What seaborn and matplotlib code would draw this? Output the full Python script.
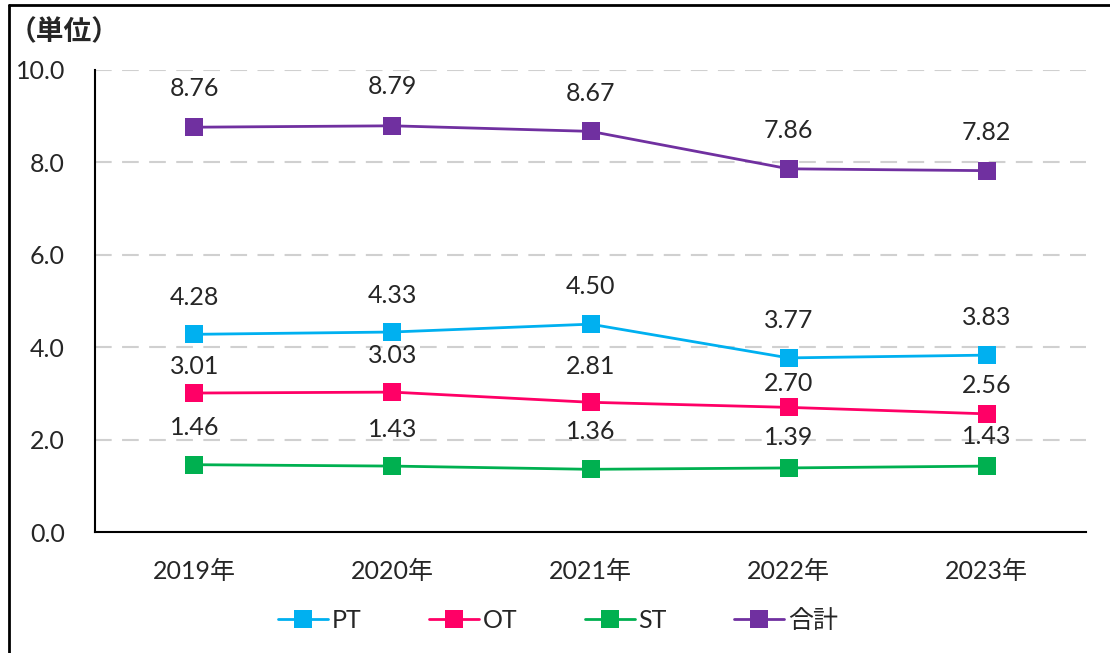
import pandas as pd
import matplotlib.pyplot as plt
import seaborn as sns
from matplotlib.lines import Line2D

years = ['2019年', '2020年', '2021年', '2022年', '2023年']
pt = [4.28, 4.33, 4.50, 3.77, 3.83]
ot = [3.01, 3.03, 2.81, 2.70, 2.56]
st = [1.46, 1.43, 1.36, 1.39, 1.43]
total = [8.76, 8.79, 8.67, 7.86, 7.82]
series = ['PT', 'OT', 'ST', '合計']
colors = ['#00B0F0', '#FF0066', '#00B050', '#7030A0']

# vertical gap (px) between each data label and its marker, as placed in the original
label_gap = [37, 37, 38, 37, 38,
             27, 37, 36, 24, 28,
             37, 37, 38, 30, 30,
             39, 39, 38, 38, 38]

df = pd.DataFrame({'year': years * 4,
                   'x': list(range(5)) * 4,
                   'value': pt + ot + st + total,
                   'series': [s for s in series for _ in years]})
df['gap'] = label_gap

sns.set_style('white')
plt.rcParams['font.family'] = ['Lato', 'Noto Sans CJK JP', 'DejaVu Sans']

fig = plt.figure(figsize=(11.1, 6.53), dpi=100)
ax = fig.add_axes([0.086, 0.185, 0.892, 0.708])

sns.lineplot(data=df, x='x', y='value', hue='series', hue_order=series,
             palette=colors, marker='s', markersize=13, markeredgewidth=0,
             linewidth=2, ax=ax)

# data labels
for _, r in df.iterrows():
    ax.annotate(f"{r['value']:.2f}", (r['x'], r['value']), xytext=(0, r['gap'] * 0.72),
                textcoords='offset points', ha='center', va='center', fontsize=18)

ax.set_xlim(-0.5, 4.5)
ax.set_ylim(0, 10)
ax.set_yticks([0, 2, 4, 6, 8, 10])
ax.set_yticklabels([f'{v:.1f}' for v in [0, 2, 4, 6, 8, 10]], fontsize=18)
ax.set_xticks(range(5))
ax.set_xticklabels(years, fontsize=18)
ax.set_xticks([i - 0.5 for i in range(6)], minor=True)
ax.tick_params(axis='x', which='major', length=0, pad=20)
ax.tick_params(axis='x', which='minor', length=6, width=1.2, direction='in', color='black')
ax.tick_params(axis='y', length=0, pad=22)
ax.set_xlabel('')
ax.set_ylabel('')
for y in [2, 4, 6, 8, 10]:
    ax.axhline(y, color='#D0D0D0', linewidth=1.5, dashes=(8, 5), zorder=0)
for s in ['top', 'right']:
    ax.spines[s].set_visible(False)
for s in ['left', 'bottom']:
    ax.spines[s].set_color('black')
    ax.spines[s].set_linewidth(1.5)

ax.legend(loc='center', bbox_to_anchor=(0.467, -0.19), ncol=4, frameon=False,
          fontsize=18, handlelength=2.0, columnspacing=2.7, handletextpad=0.15)

fig.text(0.008, 0.951, '（単位）', fontsize=20, fontweight='bold', va='center')
fig.add_artist(Line2D([0.008, 0.008], [0, 0.993], transform=fig.transFigure,
                      color='black', linewidth=2))
fig.add_artist(Line2D([0.008, 1], [0.993, 0.993], transform=fig.transFigure,
                      color='black', linewidth=2))

fig.savefig('out.png', dpi=100)
